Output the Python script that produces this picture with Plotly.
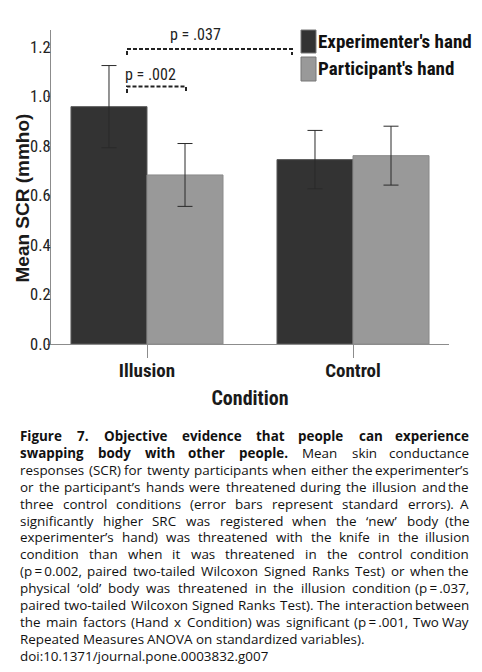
import plotly.graph_objects as go

# ---------------- data ----------------
conditions = ["Illusion", "Control"]
series_names = ["Experimenter's hand", "Participant's hand"]
experimenter_mean = [0.959, 0.745]
experimenter_se = [0.166, 0.118]
participant_mean = [0.683, 0.761]
participant_se = [0.127, 0.119]
y_ticks = [0.0, 0.2, 0.4, 0.6, 0.8, 1.0, 1.2]
p_labels = ["p = .037", "p = .002"]

DARK = "#333333"
LIGHT = "#999999"
NARROW = "Roboto Condensed, Liberation Sans Narrow, sans-serif"

OFF = 8                      # page body margin in the browser
W, H = 482 - OFF, 672 - OFF
# plot area in reference-image pixels
L, R, T, B = 51, 449, 30, 344


def px(x):
    return (x - L) / (R - L)


def py(y):
    return (B - y) / (B - T)


fig = go.Figure()
fig.add_trace(go.Bar(
    x=conditions, y=experimenter_mean, name=series_names[0],
    marker=dict(color=DARK, line=dict(color="#5a5a5a", width=1)),
    error_y=dict(type="data", array=experimenter_se, color="#2a2a2a", thickness=1, width=7.5),
    showlegend=False,
))
fig.add_trace(go.Bar(
    x=conditions, y=participant_mean, name=series_names[1],
    marker=dict(color=LIGHT, line=dict(color="#8a8a8a", width=1)),
    error_y=dict(type="data", array=participant_se, color="#2a2a2a", thickness=1, width=7.5),
    showlegend=False,
))

fig.update_layout(
    width=W, height=H,
    margin=dict(l=L - OFF, r=W - (R - OFF), t=T - OFF, b=H - (B - OFF), pad=0),
    paper_bgcolor="white", plot_bgcolor="white",
    barmode="group", bargap=0.262, bargroupgap=0,
    font=dict(family=NARROW, color="#1a1a1a"),
)
fig.update_xaxes(
    range=[-0.466, 1.466], showgrid=False, zeroline=False,
    showline=True, linecolor="#8c8c8c", linewidth=1,
    ticks="outside", ticklen=13, tickcolor="#8c8c8c", tickwidth=1,
    ticklabelstandoff=-4,
    tickfont=dict(family=NARROW, size=19, weight="bold", color="#1a1a1a"),
    title=dict(text="Condition", font=dict(family=NARROW, size=20, weight="bold", color="#1a1a1a"), standoff=10),
)
fig.update_yaxes(
    range=[0, (B - T) / 247.5], showgrid=False, zeroline=False,
    showline=True, linecolor="#8c8c8c", linewidth=1,
    tickvals=y_ticks, ticktext=[f"{v:.1f}" for v in y_ticks],
    ticks="outside", ticklen=3, tickcolor="#8c8c8c",
    ticklabelstandoff=-7,
    tickfont=dict(family=NARROW, size=16.5, color="#222222"),
)

ann = []
shapes = []

# y axis title
ann.append(dict(text="<b>Mean SCR (mmho)</b>", textangle=-90, x=px(21.5), y=py(198),
                xref="paper", yref="paper", showarrow=False, xanchor="center", yanchor="middle",
                font=dict(family="Liberation Sans, Arial, sans-serif", size=19, color="#1a1a1a")))

# legend (manual)
for i, (name, col) in enumerate(zip(series_names, [DARK, LIGHT])):
    y0, y1 = [(30, 53), (57, 81)][i]
    shapes.append(dict(type="rect", xref="paper", yref="paper",
                       x0=px(301), x1=px(316), y0=py(y1), y1=py(y0),
                       fillcolor=col, line=dict(color="#777777", width=1)))
    ann.append(dict(text=name, x=px(316), y=py((y0 + y1) / 2), xref="paper", yref="paper",
                    xanchor="left", yanchor="middle", showarrow=False,
                    font=dict(family=NARROW, size=19, weight="bold", color="#111111")))

# significance brackets
for (x0, x1, yl, yt) in [(127, 292, 49, 55), (127, 186, 86.5, 93)]:
    shapes.append(dict(type="path", xref="paper", yref="paper",
                       path=f"M {px(x0)},{py(yt)} L {px(x0)},{py(yl)} L {px(x1)},{py(yl)} L {px(x1)},{py(yt)}",
                       line=dict(color="#222222", width=2, dash="4px,2px")))
ann.append(dict(text=p_labels[0], x=px(195), y=py(34), xref="paper", yref="paper", showarrow=False,
                xanchor="center", yanchor="middle",
                font=dict(family=NARROW, size=16, color="#222222")))
ann.append(dict(text=p_labels[1], x=px(150), y=py(74), xref="paper", yref="paper", showarrow=False,
                xanchor="center", yanchor="middle",
                font=dict(family=NARROW, size=16, color="#222222")))

# ---------------- caption (justified) ----------------
REG = {' ': 532, '!': 547, '(': 545, ')': 545, ',': 492, '-': 659, '.': 545, '/': 752, ':': 545,
       ';': 545, '=': 1171, '\u2009': 300, '\u2019': 356, '\u2018': 356, "'": 444,
       'A': 1296, 'B': 1327, 'C': 1292, 'D': 1493, 'E': 1139, 'F': 1057, 'G': 1491, 'H': 1511,
       'I': 571, 'J': 547, 'K': 1257, 'L': 1073, 'M': 1849, 'N': 1544, 'O': 1595, 'P': 1233,
       'Q': 1595, 'R': 1266, 'S': 1124, 'T': 1139, 'U': 1491, 'V': 1217, 'W': 1901, 'X': 1199,
       'Y': 1155, 'Z': 1159,
       'a': 1139, 'b': 1237, 'c': 975, 'd': 1237, 'e': 1149, 'f': 694, 'g': 1087, 'h': 1255,
       'i': 518, 'j': 518, 'k': 1075, 'l': 518, 'm': 1905, 'n': 1255, 'o': 1219, 'p': 1237,
       'q': 1237, 'r': 836, 's': 977, 't': 723, 'u': 1255, 'v': 1026, 'w': 1593, 'x': 1073,
       'y': 1028, 'z': 956}
for d in "0123456789":
    REG[d] = 1171
BOLD = {' ': 532, '.': 614, 'F': 1186, 'O': 1636, 'a': 1208, 'b': 1284, 'c': 1057, 'd': 1284,
        'e': 1225, 'f': 768, 'g': 1151, 'h': 1329, 'i': 604, 'j': 604, 'k': 1262, 'l': 604,
        'm': 1989, 'n': 1329, 'o': 1255, 'p': 1284, 'r': 899, 's': 1028, 't': 803, 'u': 1329,
        'v': 1159, 'w': 1751, 'x': 1192, 'y': 1161}
for d in "0123456789":
    BOLD[d] = 1171

CAP_FONT = "Open Sans, Noto Sans, sans-serif"
T_SP = "\u2009"
caption_lines = [
    ("B", "Figure 7. Objective evidence that people can experience", True),
    ("M", ["swapping", "body", "with", "other", "people."], ["Mean", "skin", "conductance"]),
    ("R", "responses (SCR) for twenty participants when either the experimenter\u2019s", True),
    ("R", "or the participant\u2019s hands were threatened during the illusion and the", True),
    ("R", "three control conditions (error bars represent standard errors). A", True),
    ("R", "significantly higher SRC was registered when the \u2018new\u2019 body (the", True),
    ("R", "experimenter\u2019s hand) was threatened with the knife in the illusion", True),
    ("R", "condition than when it was threatened in the control condition", True),
    ("R", f"(p{T_SP}={T_SP}0.002, paired two-tailed Wilcoxon Signed Ranks Test) or when the", True),
    ("R", f"physical \u2018old\u2019 body was threatened in the illusion condition (p{T_SP}={T_SP}.037,", True),
    ("R", "paired two-tailed Wilcoxon Signed Ranks Test). The interaction between", True),
    ("R", f"the main factors (Hand x Condition) was significant (p{T_SP}={T_SP}.001, Two Way", True),
    ("R", "Repeated Measures ANOVA on standardized variables).", False),
    ("R", "doi:10.1371/journal.pone.0003832.g007", False),
]


def line_words(line):
    if line[0] == "M":
        return [(w, True) for w in line[1]] + [(w, False) for w in line[2]], True
    return [(w, line[0] == "B") for w in line[1].split(" ")], line[2]


def em_width(word, bold):
    tbl = BOLD if bold else REG
    return sum(tbl.get(c, 1150) for c in word) / 2048


X_LEFT, X_RIGHT = 19, 470
max_em = 0
for line in caption_lines:
    ws, _ = line_words(line)
    max_em = max(max_em, sum(em_width(w, b) for w, b in ws) + (len(ws) - 1) * 532 / 2048)
CAP_SIZE = min(13.8, 0.985 * (X_RIGHT - X_LEFT) / max_em)

Y0, DY = 436, 16.9
for li, line in enumerate(caption_lines):
    ypix = Y0 + li * DY
    words, justify = line_words(line)
    widths = [em_width(w, b) * CAP_SIZE for w, b in words]
    if justify and len(words) > 1:
        gap = (X_RIGHT - X_LEFT - sum(widths)) / (len(words) - 1)
    else:
        gap = REG[' '] / 2048 * CAP_SIZE
    x = X_LEFT
    for i, ((w, b), wd) in enumerate(zip(words, widths)):
        last = justify and i == len(words) - 1
        ann.append(dict(text=f"<b>{w}</b>" if b else w,
                        x=px(X_RIGHT if last else x), y=py(ypix),
                        xref="paper", yref="paper", showarrow=False,
                        xanchor="right" if last else "left", yanchor="middle",
                        borderpad=0,
                        font=dict(family=CAP_FONT, size=CAP_SIZE, color="#111111")))
        x += wd + gap

fig.update_layout(annotations=ann, shapes=shapes)
fig.write_html("out.html")
